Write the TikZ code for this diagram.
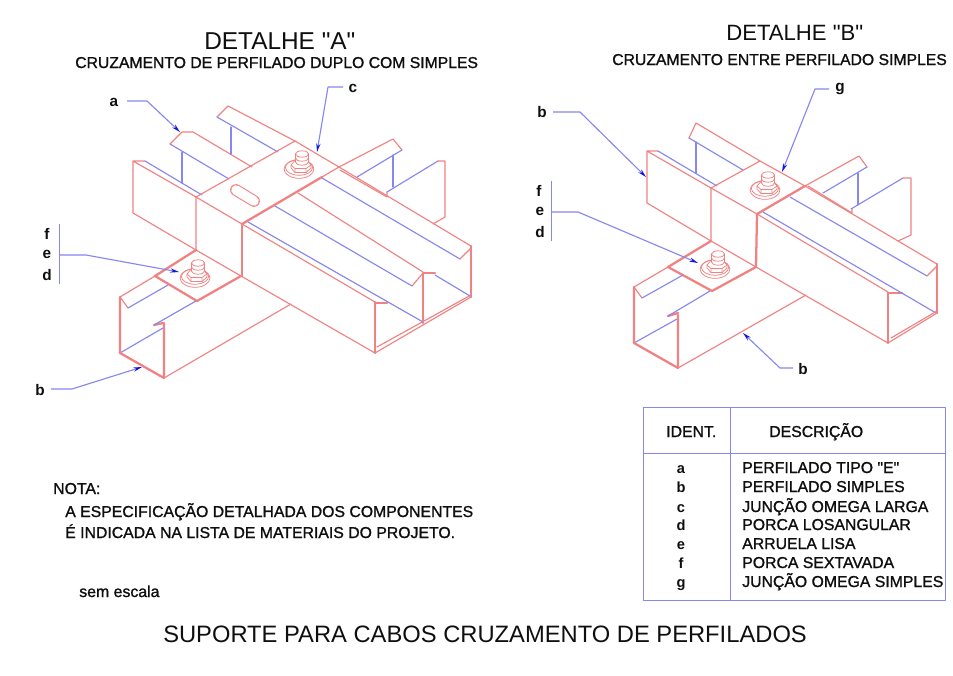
\documentclass[tikz,border=0pt]{standalone}
\usepackage{fontspec}
\setmainfont{Liberation Sans}
\newfontfamily\plainf{Liberation Sans}
\newfontfamily\semib[FakeBold=1.2]{Liberation Sans}
\usetikzlibrary{arrows.meta}
\definecolor{sred}{RGB}{240,130,130}
\definecolor{sblue}{RGB}{135,135,240}
\definecolor{tipblue}{RGB}{20,20,225}
\definecolor{ink}{RGB}{15,15,15}
\newcommand{\fs}[1]{\fontsize{#1}{#1}\selectfont}
\tikzset{
  rl/.style={draw=sred,line width=0.85pt,line join=round,line cap=round},
  rt/.style={draw=sred,line width=1.7pt,line join=round,line cap=round},
  rb/.style={draw=sred,line width=0.55pt,line join=round,line cap=round},
  bl/.style={draw=sblue,line width=0.85pt,line join=round,line cap=round},
  tb/.style={draw=sblue,line width=0.7pt,line join=round},
  leader/.style={draw=sblue,line width=0.85pt,line join=round,-{Stealth[color=tipblue,length=6.5pt,width=3.2pt]}},
  lett/.style={font=\bfseries\fs{11.5pt},text=ink,inner sep=0pt,anchor=center},
  txt/.style={text=ink,inner sep=0pt,anchor=base west},
  titlefont/.style={font=\plainf\fs{18.3pt}},
  subfont/.style={font=\semib\fs{11.8pt}},
  notefont/.style={font=\semib\fs{11.85pt}},
  tabfont/.style={font=\semib\fs{11.85pt}},
  boltpic/.pic={
    \draw[rb,fill=white] (0,0) ellipse[x radius=11.2pt,y radius=7pt];
    \draw[rb] (0,-1.5) ellipse[x radius=10.2pt,y radius=5.8pt];
    \draw[rb,fill=white] (-8,-4)--(-4,-8.5)--(8,-8.5)--(12,-4)--(12,-1)--(7,3.5)--(-4,3.5)--(-8,-1)--cycle;
    \draw[rb] (-8,-4)--(-4,-0.5)--(7,-0.5)--(12,-4) (-4,-0.5)--(-4,3.5) (7,-0.5)--(7,3.5);
    \draw[rb,fill=white] (-3.5,-7)--(-3.5,-15) arc[start angle=180,end angle=0,x radius=4.9pt,y radius=2.4pt] --(9.5,-7) arc[start angle=0,end angle=-180,x radius=4.9pt,y radius=2.4pt];
    \draw[rb] (-3.5,-11) arc[start angle=180,end angle=360,x radius=4.9pt,y radius=2.4pt];
    \draw[rb] (-3.5,-15) arc[start angle=180,end angle=360,x radius=4.9pt,y radius=2.4pt];
  }
}
\begin{document}
\begin{tikzpicture}[x=0.75pt,y=-0.75pt]
\path[fill=white,use as bounding box] (0,0) rectangle (953,675);

% ---------- DETALHE A ----------
\draw[rl] (145,161)--(133,161)--(133,213)--(196,250)--(196,197)--(133,161);
\draw[rl] (170,144)--(182,132)--(193,132)--(252,167);
\draw[rl] (217,117)--(228,106)--(295,141);
\draw[bl] (170,144)--(229,179);
\draw[bl] (217,117)--(278,152);
\draw[bl] (182,152)--(182,183);
\draw[bl] (231,127)--(231,154);
\draw[bl] (145,161)--(202,195);
% top plate
\draw[rl] (196,197)--(295,141)--(339,167);
\draw[rl] (196,197)--(242,224);
\draw[rt] (242,224)--(322,177);
\draw[rl] (322,177)--(339,167);
\draw[rt] (242,224)--(242,276);
% slot
\draw[sred,line width=8.8pt,line cap=round] (236,190)--(254,201);
\draw[white,line width=7.2pt,line cap=round] (236,190)--(254,201);
% lower plate
\draw[rt] (196,250)--(155,276)--(197,301)--(241,276);
\draw[rl] (196,250)--(241,276)--(375,353);
\draw[rl] (164,378)--(291,304);
% near end of lower channel
\draw[rl] (155,276)--(120,297)--(128,308);
\draw[bl] (128,308)--(168,285);
\draw[rt] (154,325)--(163,323);
\draw[bl] (154,325)--(196,301);
\draw[bl] (120,353)--(163,328);
\draw[rt] (120,297)--(120,353)--(164,378)--(164,323);
% upper main channel
\draw[rl] (242,224)--(375,302);
\draw[rt] (375,303)--(387,303);
\draw[rt] (375,302)--(375,353);
\draw[rl] (375,353)--(471,297);
\draw[rl] (377,347)--(471,295);
\draw[bl] (248,222)--(423,322);
\draw[rt] (423,274)--(423,323);
\draw[rl] (298,193)--(423,272);
\draw[rt] (423,273)--(435,273);
\draw[rl] (412,286)--(423,273);
\draw[bl] (275,206)--(412,286);
\draw[bl] (435,275)--(470,296);
\draw[bl] (322,178)--(460,259);
\draw[rl] (339,167)--(471,246);
\draw[rl] (460,259)--(471,248);
\draw[rt] (471,246)--(471,297);
% far right channel
\draw[rl] (339,167)--(393,139)--(402,150);
\draw[bl] (402,150)--(357,177);
\draw[bl] (393,155)--(393,187);
\draw[rl] (340,170)--(387,197)--(387,192);
\draw[bl] (387,192)--(438,161);
\draw[rl] (438,161)--(445,161)--(445,217)--(433,224);
\pic at (299,169) {boltpic};
\pic at (195,278) {boltpic};

% ---------- DETALHE B ----------
\draw[rl] (658,151)--(647,151)--(647,203)--(711,241)--(711,188)--(647,151);
\draw[rl] (689,138)--(696,123)--(760,161);
\draw[bl] (689,138)--(743,170);
\draw[bl] (696,142)--(696,173);
\draw[bl] (658,151)--(717,186);
% top plate
\draw[rl] (711,188)--(760,161)--(805,186);
\draw[rl] (711,188)--(757,214);
\draw[rt] (757,214)--(805,186);
\draw[rt] (757,214)--(756,267);
% lower plate
\draw[rt] (711,241)--(668,267)--(712,291)--(756,267);
\draw[rl] (711,241)--(756,267)--(888,343);
\draw[rl] (678,368)--(806,295);
% near end
\draw[rl] (668,267)--(634,287)--(642,298);
\draw[bl] (642,298)--(683,275);
\draw[rt] (668,316)--(678,313);
\draw[bl] (668,316)--(710,291);
\draw[bl] (634,343)--(677,319);
\draw[rt] (634,287)--(634,343)--(678,368)--(678,315);
% main channel
\draw[rl] (757,214)--(888,292);
\draw[rt] (888,293)--(902,293);
\draw[rt] (888,293)--(888,343);
\draw[bl] (763,212)--(936,313);
\draw[bl] (790,197)--(927,276);
\draw[rl] (805,186)--(937,264);
\draw[rl] (927,276)--(937,266);
\draw[rt] (937,264)--(937,313);
\draw[rl] (888,343)--(937,313);
\draw[rl] (891,338)--(937,311);
% far right
\draw[rl] (805,186)--(859,156)--(867,167);
\draw[bl] (867,167)--(823,193);
\draw[bl] (858,173)--(858,205);
\draw[rl] (808,186)--(852,213)--(852,209);
\draw[bl] (851,209)--(903,178);
\draw[rl] (903,178)--(911,178)--(911,235)--(898,241);
\pic at (765,190) {boltpic};
\pic at (715,269) {boltpic};

% ---------- leaders and labels ----------
\node[lett] (la) at (114,102) {a};
\coordinate (ka) at (147,101); \coordinate (ta) at (180,132);
\draw[leader] (127,101)--(ka)--(ta);
\node[lett] (lc) at (353,88) {c};
\coordinate (kc) at (328,87); \coordinate (tc) at (317,152);
\draw[leader] (343,87)--(kc)--(tc);
\node[lett] (lf1) at (47,234) {f};
\node[lett] (le1) at (47,254) {e};
\node[lett] (ld1) at (47,275) {d};
\coordinate (bt1) at (59,224); \coordinate (bb1) at (59,284); \coordinate (bm1) at (59,255);
\coordinate (k1) at (86,255); \coordinate (t1) at (179,272);
\draw[tb] (bt1)--(bb1);
\draw[leader] (bm1)--(k1)--(t1);
\node[lett] (lb1) at (40,390) {b};
\coordinate (kb1) at (72,389); \coordinate (tb1) at (142,367);
\draw[leader] (51,389)--(kb1)--(tb1);

\node[lett] (lb2) at (542,112) {b};
\coordinate (kb2) at (580,112); \coordinate (tb2) at (646,177);
\draw[leader] (553,112)--(kb2)--(tb2);
\node[lett] (lf2) at (539,191) {f};
\node[lett] (le2) at (540,211) {e};
\node[lett] (ld2) at (540,232) {d};
\coordinate (bt2) at (551,181); \coordinate (bb2) at (551,241); \coordinate (bm2) at (551,212);
\coordinate (k2) at (578,212); \coordinate (t2) at (698,263);
\draw[tb] (bt2)--(bb2);
\draw[leader] (bm2)--(k2)--(t2);
\node[lett] (lg) at (840,89) {g};
\coordinate (kg) at (815,89); \coordinate (tg) at (782,172);
\draw[leader] (829,89)--(kg)--(tg);
\node[lett] (lb3) at (803,369) {b};
\coordinate (kb3) at (780,368); \coordinate (tb3) at (743,333);
\draw[leader] (793,368)--(kb3)--(tb3);

% ---------- titles ----------
\node[txt,titlefont] (ta1) at (204,49) {DETALHE "A"};
\node[txt,subfont] (ta2) at (75,68) {CRUZAMENTO DE PERFILADO DUPLO COM SIMPLES};
\node[txt,font=\plainf\fs{16.6pt}] (tb1t) at (726,40) {DETALHE "B"};
\node[txt,subfont] (tb2t) at (612,65) {CRUZAMENTO ENTRE PERFILADO SIMPLES};
\node[txt,notefont] (nota) at (53,494) {NOTA:};
\node[txt,notefont] (n1) at (65,517) {A ESPECIFICAÇÃO DETALHADA DOS COMPONENTES};
\node[txt,notefont] (n2) at (65,538) {É INDICADA NA LISTA DE MATERIAIS DO PROJETO.};
\node[txt,font=\semib\fs{11.9pt}] (sem) at (79,597) {sem escala};
\node[txt,font=\plainf\fs{17.8pt}] (main) at (163,642) {SUPORTE PARA CABOS CRUZAMENTO DE PERFILADOS};

% ---------- table ----------
\draw[tb] (643.5,407.5) rectangle (945.5,600.5);
\draw[tb] (730.5,407.5)--(730.5,600.5);
\draw[tb] (643.5,453.5)--(945.5,453.5);
\node[txt,tabfont] (h1) at (666,437) {IDENT.};
\node[txt,tabfont] (h2) at (769,437) {DESCRIÇÃO};
\foreach \n/\y/\l/\d in {
  ra/473/a/{PERFILADO TIPO "E"},
  rb/492/b/{PERFILADO SIMPLES},
  rc/512/c/{JUNÇÃO OMEGA LARGA},
  rd/530/d/{PORCA LOSANGULAR},
  re/549/e/{ARRUELA LISA},
  rf/568/f/{PORCA SEXTAVADA},
  rg/587/g/{JUNÇÃO OMEGA SIMPLES}}{
  \node[txt,anchor=base,font=\bfseries\fs{11pt}] (\n id) at (681,\y) {\l};
  \node[txt,tabfont] (\n ds) at (742,\y) {\d};
}
\end{tikzpicture}
\end{document}
